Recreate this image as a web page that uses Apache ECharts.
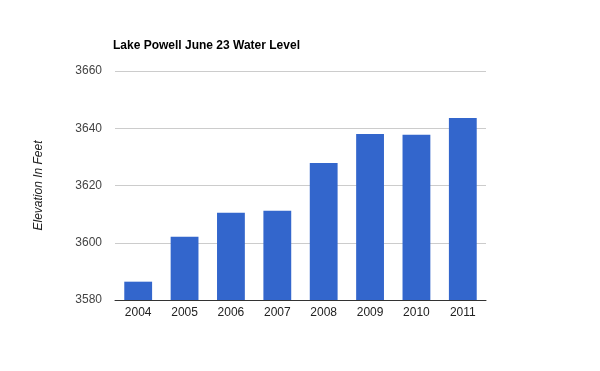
<!DOCTYPE html>
<html>
<head>
<meta charset="utf-8">
<script src="https://cdn.jsdelivr.net/npm/echarts@6/dist/echarts.min.js"></script>
<style>html,body{margin:0;padding:0;background:#fff}#c{width:600px;height:371px}</style>
</head>
<body>
<div id="c"></div>
<script>
const categories = ['2004','2005','2006','2007','2008','2009','2010','2011'];
const elevation = [3586.4, 3602.1, 3610.5, 3611.2, 3627.9, 3638.0, 3637.7, 3643.6];
const yTicks = [3580, 3600, 3620, 3640, 3660];

const chart = echarts.init(document.getElementById('c'), null, {renderer: 'canvas'});
chart.setOption({
  animation: false,
  backgroundColor: '#fff',
  title: {
    text: 'Lake Powell June 23 Water Level',
    left: 113, top: 40, padding: 0,
    textStyle: {fontFamily: 'Arial, Liberation Sans', fontSize: 12, fontWeight: 'bold', color: '#000'}
  },
  grid: {left: 115, right: 114, top: 71, bottom: 71, containLabel: false},
  xAxis: {
    type: 'category',
    data: categories,
    axisLine: {lineStyle: {color: '#333', width: 1}},
    axisTick: {show: false},
    axisLabel: {fontFamily: 'Arial, Liberation Sans', fontSize: 12, color: '#222', margin: 7}
  },
  yAxis: {
    type: 'value',
    min: yTicks[0], max: yTicks[yTicks.length - 1], interval: 20,
    name: 'Elevation In Feet',
    nameLocation: 'middle',
    nameRotate: 90,
    nameGap: 70,
    nameTextStyle: {fontFamily: 'Arial, Liberation Sans', fontSize: 12, fontStyle: 'italic', color: '#222'},
    axisLine: {show: false},
    axisTick: {show: false},
    splitLine: {lineStyle: {color: '#ccc', width: 1}},
    axisLabel: {fontFamily: 'Arial, Liberation Sans', fontSize: 12, color: '#444', margin: 13,
      formatter: v => String(v)}
  },
  series: [{
    type: 'bar',
    data: elevation,
    barCategoryGap: '40%',
    itemStyle: {color: '#3366cc'}
  }]
});
</script>
</body>
</html>
